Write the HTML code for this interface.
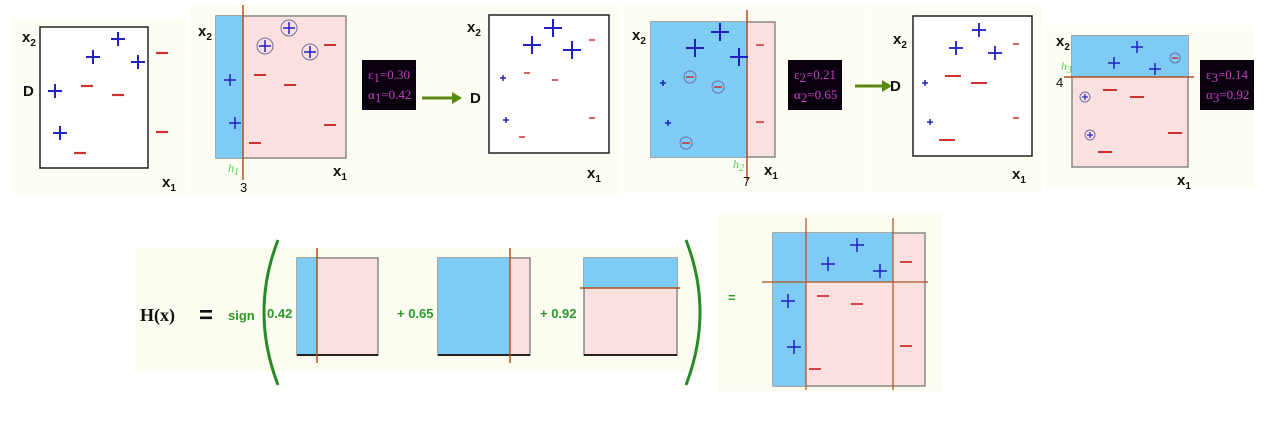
<!DOCTYPE html>
<html><head><meta charset="utf-8"><style>
html,body{margin:0;padding:0;background:#fff;width:1264px;height:424px;overflow:hidden}
svg{display:block}
.ax{font:bold 15px "Liberation Sans",sans-serif;fill:#111}
.sub{font:bold 10px "Liberation Sans",sans-serif}
.mg{font:13px "Liberation Serif",serif;fill:#c040c0}
.gr{font:bold 13px "Liberation Sans",sans-serif;fill:#2a9a2a}
</style></head><body>
<svg id="s" width="1264" height="424">
<g>
<rect x="12" y="18" width="176" height="177" fill="#fdfdf4"/>
<rect x="190" y="4" width="430" height="192" fill="#fdfdf4"/>
<rect x="624" y="4" width="245" height="188" fill="#fdfdf4"/>
<rect x="870" y="4" width="172" height="188" fill="#fdfdf4"/>
<rect x="1044" y="25" width="210" height="163" fill="#fdfdf4"/>
<rect x="135" y="248" width="565" height="124" fill="#fcfcf0"/>
<rect x="718" y="213" width="224" height="178" fill="#fcfcf0"/>
</g>
<g id="g"></g>
</svg>
<script>
// panel point data: [x, y] in page coordinates of each sample
const p1Plus=[[118,39],[93,57],[138,62],[55,91],[60,133]];
const p1Minus=[[162,53],[87,86],[118,95],[162,132],[80,153]];
const p2PlusCirc=[[289,28],[265,46],[310,52]];
const p2Plus=[[230,80],[235,123]];
const p2Minus=[[330,45],[260,75],[290,85],[330,125],[255,143]];
const p3PlusBig=[[553,28],[532,45],[572,50]];
const p3PlusSm=[[503,78],[506,120]];
const p3MinusSm=[[592,40],[527,73],[555,80],[592,118],[522,137]];
const p4PlusBig=[[720,32],[695,48],[739,57]];
const p4PlusSm=[[663,83],[668,123]];
const p4MinusCirc=[[690,77],[718,87],[686,143]];
const p4Minus=[[760,45],[760,122]];
const p5PlusBig=[[979,30],[956,48],[995,53]];
const p5PlusSm=[[925,83],[930,122]];
const p5MinusSm=[[1016,44],[1016,118]];
const p5MinusBig=[[953,76],[979,83],[947,140]];
const p6Plus=[[1137,47],[1114,63],[1155,69]];
const p6MinusCirc=[[1175,58]];
const p6PlusCirc=[[1085,97],[1090,135]];
const p6Minus=[[1110,90],[1137,97],[1175,133],[1105,152]];
const fPlus=[[857,245],[828,264],[880,271],[788,301],[794,347]];
const fMinus=[[906,262],[823,296],[857,304],[906,346],[815,369]];
const alphas=["0.42","0.65","0.92"];

const NS="http://www.w3.org/2000/svg";
const G=document.getElementById('g');
function mk(tag,at,parent){const e=document.createElementNS(NS,tag);for(const k in at)e.setAttribute(k,at[k]);(parent||G).appendChild(e);return e;}
function rect(x,y,w,h,f,s){return mk('rect',{x,y,width:w,height:h,fill:f,stroke:s||'none','stroke-width':1.5});}
function line(x1,y1,x2,y2,c,w){return mk('line',{x1,y1,x2,y2,stroke:c,'stroke-width':w||1.5});}
function txt(x,y,t,cls,extra){const e=mk('text',Object.assign({x,y,class:cls},extra||{}));e.textContent=t;return e;}
function plus(pts,sz,w,circ){pts.forEach(p=>{const g=mk('g',{});


mk('line',{x1:p[0]-sz,y1:p[1],x2:p[0]+sz,y2:p[1],stroke:'#2020c0','stroke-width':w},g);
mk('line',{x1:p[0],y1:p[1]-sz,x2:p[0],y2:p[1]+sz,stroke:'#2020c0','stroke-width':w},g);
if(circ)mk('circle',{cx:p[0],cy:p[1],r:circ,fill:'none',stroke:'#7070a0','stroke-width':1},g);});}
function minus(pts,sz,w,circ){pts.forEach(p=>{const g=mk('g',{});


mk('line',{x1:p[0]-sz,y1:p[1],x2:p[0]+sz,y2:p[1],stroke:'#d03030','stroke-width':w},g);
if(circ)mk('circle',{cx:p[0],cy:p[1],r:circ,fill:'none',stroke:'#7070a0','stroke-width':1},g);});}
function axl(x,y,n){const t=txt(x,y,'x','ax');const s=mk('tspan',{class:'sub',dy:4});s.textContent=n;t.appendChild(s);}
function sub(x,y,a,n,st,sst){const t=txt(x,y,a,'',{style:st});const s=mk('tspan',{dy:3,style:sst});s.textContent=n;t.appendChild(s);return t;}
function blk(x,y,i,e,a){rect(x,y,54,50,'#0a0010');
const t1=txt(x+6,y+19,'ε','mg');const s1=mk('tspan',{dy:3},t1);s1.textContent=i;const r1=mk('tspan',{dy:-3},t1);r1.textContent='=0.'+e;
const t2=txt(x+6,y+39,'α','mg');const s2=mk('tspan',{dy:3},t2);s2.textContent=i;const r2=mk('tspan',{dy:-3},t2);r2.textContent='='+a;}
function arrow(x1,x2,y){line(x1,y,x2-8,y,'#5a8a10',3);mk('polygon',{points:`${x2},${y} ${x2-10},${y-6} ${x2-10},${y+6}`,fill:'#5a8a10'});}
const BL='#7ecbf5',PK='#fbe0e0',BR='#b05020';
const HS='font:italic 12px Liberation Serif;fill:#50d050',HSS='font:italic 10px Liberation Serif';

// panel 1
rect(40,27,108,141,'#fff','#222');axl(22,42,'2');txt(23,96,'D','ax');axl(162,187,'1');
plus(p1Plus,7,2);minus(p1Minus,6,2.2);
// panel 2
rect(216,16,130,142,PK,'#888');rect(216,16,27,142,BL);line(243,5,243,180,BR);
axl(198,36,'2');axl(333,176,'1');sub(228,172,'h','1',HS,HSS);txt(240,192,'3','',{style:'font:13px Liberation Sans;fill:#111'});
plus(p2PlusCirc,6,1.5,8);plus(p2Plus,6,1.5);minus(p2Minus,6,2);
blk(362,60,1,'30','0.42');arrow(422,462,98);
// panel 3
rect(489,15,120,138,'#fff','#222');axl(467,32,'2');txt(470,103,'D','ax');axl(587,178,'1');
plus(p3PlusBig,9,2);plus(p3PlusSm,3,1.5);minus(p3MinusSm,3,1.5);
// panel 4
rect(651,22,124,135,PK,'#888');rect(651,22,96,135,BL);line(747,10,747,180,BR);
axl(632,40,'2');axl(764,175,'1');sub(733,168,'h','2',HS,HSS);txt(743,186,'7','',{style:'font:13px Liberation Sans;fill:#111'});
plus(p4PlusBig,9,2);plus(p4PlusSm,3,1.5);minus(p4MinusCirc,4,1.5,6);minus(p4Minus,4,1.5);
blk(788,60,2,'21','0.65');arrow(855,892,86);txt(890,91,'D','ax');
// panel 5
rect(913,16,119,140,'#fff','#222');axl(893,44,'2');axl(1012,179,'1');
plus(p5PlusBig,7,1.8);plus(p5PlusSm,3,1.5);minus(p5MinusSm,3,1.5);minus(p5MinusBig,8,2);
// panel 6
rect(1072,36,116,131,PK,'#888');rect(1072,36,116,41,BL);line(1064,77,1194,77,BR);
axl(1056,46,'2');axl(1177,185,'1');txt(1056,87,'4','',{style:'font:13px Liberation Sans;fill:#111'});sub(1061,70,'h','3',HS,HSS);
plus(p6Plus,6,1.5);minus(p6MinusCirc,3,1.5,5);plus(p6PlusCirc,3,1.2,5);minus(p6Minus,7,2);
blk(1200,60,3,'14','0.92');
// bottom equation
txt(140,321,'H(x)','',{style:'font:bold 18px Liberation Serif;fill:#111'});
txt(199,323,'=','',{style:'font:bold 24px Liberation Sans;fill:#111'});
txt(228,320,'sign','gr');
mk('path',{d:'M278,240 Q250,312 278,385',fill:'none',stroke:'#2a8a2a','stroke-width':3});
mk('path',{d:'M686,240 Q714,312 686,385',fill:'none',stroke:'#2a8a2a','stroke-width':3});
txt(267,318,alphas[0],'gr');txt(397,318,'+ '+alphas[1],'gr');txt(540,318,'+ '+alphas[2],'gr');
rect(297,258,81,97,PK,'#888');rect(297,258,20,97,BL);line(297,355,378,355,'#222',2);line(317,248,317,363,BR);
rect(438,258,92,97,PK,'#888');rect(438,258,72,97,BL);line(438,355,530,355,'#222',2);line(510,248,510,363,BR);
rect(584,258,93,97,PK,'#888');rect(584,258,93,30,BL);line(584,355,677,355,'#222',2);line(580,288,680,288,BR);
txt(728,302,'=','gr');
rect(773,233,152,153,PK,'#888');rect(773,233,33,153,BL);rect(773,233,120,49,BL);
line(806,218,806,390,BR,1.2);line(893,218,893,390,BR,1.2);line(762,282,928,282,BR,1.2);
plus(fPlus,7,1.5);minus(fMinus,6,1.8);
</script>
</body></html>
